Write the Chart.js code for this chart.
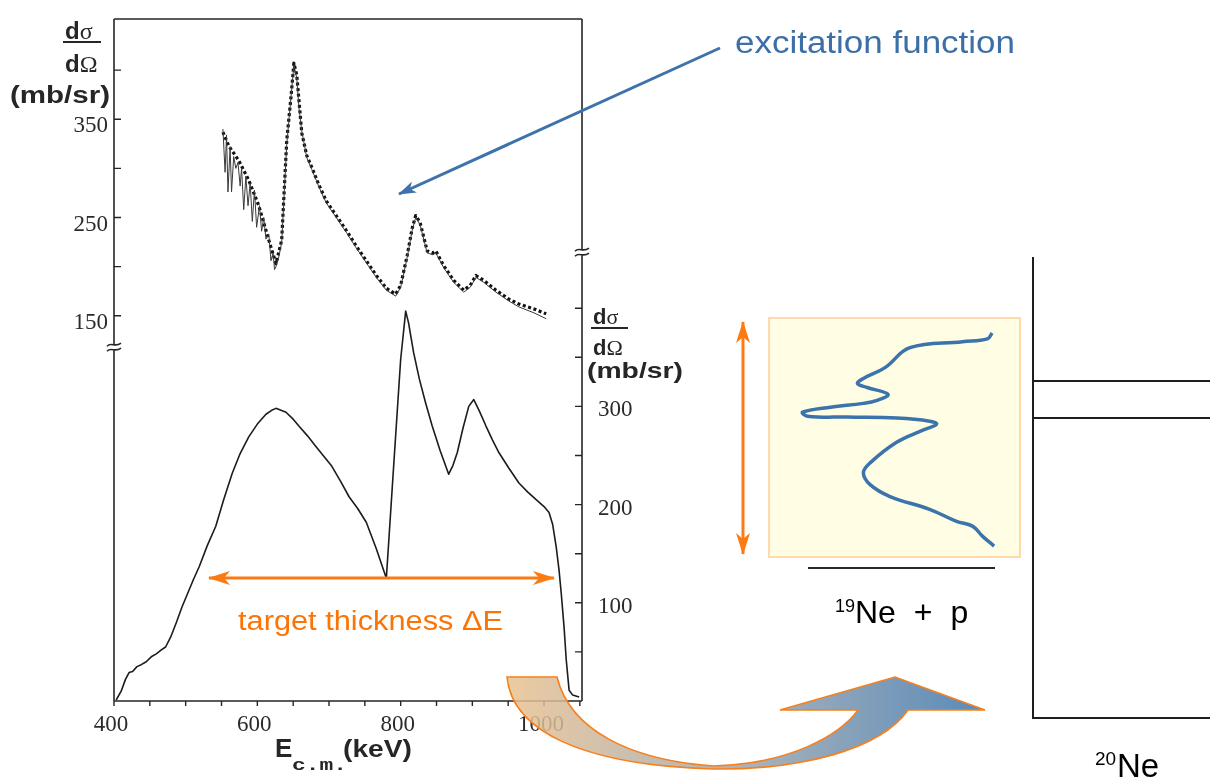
<!DOCTYPE html>
<html>
<head>
<meta charset="utf-8">
<script src="https://cdn.jsdelivr.net/npm/chart.js@4.4.1/dist/chart.umd.min.js"></script>
<style>
    html, body { margin: 0; padding: 0; background: #fff; }
    body { width: 1210px; height: 779px; position: relative; overflow: hidden; }
    #mainChart { position: absolute; left: 0; top: 0; }
    #insetBox {
        position: absolute; left: 768px; top: 317px; width: 253px; height: 241px;
        box-sizing: border-box; border: 2px solid #ffd9ab; background: #fffde4;
    }
    #insetChart { display: block; }
    #overlay { position: absolute; left: 0; top: 0; pointer-events: none; }
</style>
</head>
<body>
<canvas id="mainChart" width="700" height="779"></canvas>
<div id="insetBox"><canvas id="insetChart" width="249" height="237"></canvas></div>

<svg id="overlay" width="1210" height="779" xmlns="http://www.w3.org/2000/svg">
    <defs>
        <linearGradient id="bendFill" gradientUnits="userSpaceOnUse" x1="507" y1="0" x2="985" y2="0">
            <stop offset="0" stop-color="#e9c291"/>
            <stop offset="0.5" stop-color="#9aa5b0"/>
            <stop offset="1" stop-color="#3d76ab"/>
        </linearGradient>
        <marker id="headBlue" markerUnits="userSpaceOnUse" markerWidth="18" markerHeight="12" refX="17" refY="6" orient="auto-start-reverse">
            <path d="M0,0 L18,6 L0,12 L5,6 Z" fill="#3d72aa"/>
        </marker>
        <marker id="headOrange" markerUnits="userSpaceOnUse" markerWidth="22" markerHeight="14" refX="21" refY="7" orient="auto-start-reverse">
            <path d="M0,0 L22,7 L0,14 L6,7 Z" fill="#fb7b12"/>
        </marker>
    </defs>

    <!-- titres des axes du graphique principal -->
    <g font-family="Liberation Sans, Arial, sans-serif" font-weight="bold" fill="#262626">
        <text x="65" y="39" font-size="24">d<tspan font-family="Liberation Serif, serif" font-weight="normal">σ</tspan></text>
        <line x1="63" y1="42" x2="101" y2="42" stroke="#262626" stroke-width="2.2"/>
        <text x="65" y="72" font-size="24">d<tspan font-family="Liberation Serif, serif" font-weight="normal">Ω</tspan></text>
        <text x="10" y="103" font-size="23" textLength="100" lengthAdjust="spacingAndGlyphs">(mb/sr)</text>

        <text x="593" y="324" font-size="22">d<tspan font-family="Liberation Serif, serif" font-weight="normal">σ</tspan></text>
        <line x1="591" y1="328" x2="628" y2="328" stroke="#262626" stroke-width="2.2"/>
        <text x="593" y="355" font-size="22">d<tspan font-family="Liberation Serif, serif" font-weight="normal">Ω</tspan></text>
        <text x="587" y="378" font-size="22" textLength="96" lengthAdjust="spacingAndGlyphs">(mb/sr)</text>

        <text x="275" y="757" font-size="26">E</text>
        <text x="292" y="770" font-size="17" font-family="Liberation Mono, monospace" textLength="55" lengthAdjust="spacingAndGlyphs">c.m.</text>
        <text x="343" y="757" font-size="24" textLength="69" lengthAdjust="spacingAndGlyphs">(keV)</text>
    </g>

    <!-- annotations -->
    <text x="735" y="53" font-family="Liberation Sans, Arial, sans-serif" font-size="31" fill="#3b6fa6" textLength="280" lengthAdjust="spacingAndGlyphs">excitation function</text>
    <line x1="720" y1="48" x2="399" y2="194" stroke="#3d72aa" stroke-width="3" marker-end="url(#headBlue)"/>

    <line x1="209" y1="578" x2="554" y2="578" stroke="#fb7b12" stroke-width="3" marker-start="url(#headOrange)" marker-end="url(#headOrange)"/>
    <text x="238" y="630" font-family="Liberation Sans, Arial, sans-serif" font-size="27" fill="#fb7406" textLength="265" lengthAdjust="spacingAndGlyphs">target thickness ΔE</text>

    <line x1="743" y1="322" x2="743" y2="554" stroke="#fb7b12" stroke-width="3" marker-start="url(#headOrange)" marker-end="url(#headOrange)"/>

    <line x1="808" y1="568" x2="995" y2="568" stroke="#2a2a2a" stroke-width="2"/>
    <text x="835" y="612" font-family="Liberation Sans, Arial, sans-serif" font-size="18" fill="#000">19</text>
    <text x="855" y="623" font-family="Liberation Sans, Arial, sans-serif" font-size="32" word-spacing="9" fill="#000">Ne + p</text>

    <!-- schéma des niveaux -->
    <g stroke="#1e1e1e" stroke-width="2">
        <line x1="1033" y1="257" x2="1033" y2="719"/>
        <line x1="1032" y1="718" x2="1210" y2="718"/>
        <line x1="1033" y1="381" x2="1210" y2="381"/>
        <line x1="1033" y1="418" x2="1210" y2="418"/>
    </g>
    <text x="1095" y="765" font-family="Liberation Sans, Arial, sans-serif" font-size="19" fill="#000">20</text>
    <text x="1117" y="777" font-family="Liberation Sans, Arial, sans-serif" font-size="33" fill="#000">Ne</text>

    <!-- flèche courbe -->
    <path d="M507,677 L557,677 C570,730 630,760 713,766 C790,764 840,735 858,710 L780,710 L895,677 L985,710 L908,710 C880,750 800,770 713,769 C580,765 512,730 507,677 Z"
          fill="url(#bendFill)" fill-opacity="0.85" stroke="#f7801d" stroke-width="1.6"/>
</svg>

<script>
// Axe des énergies (keV) et courbe de la fonction d'excitation (points, échelle de gauche)
const upperEnergy = [552, 560, 574, 588, 602, 616, 626, 634, 641, 647, 651, 655, 662, 669, 676, 686, 696, 710, 724, 738, 752, 766, 780, 793, 800, 809, 816, 821, 827, 837, 845, 849, 860, 874, 888, 897, 905, 916, 933, 951, 965, 986, 1003];
const upperValue = [337, 323, 308, 288, 262, 227, 203, 227, 328, 373, 407, 395, 336, 313, 301, 283, 267, 252, 237, 221, 206, 191, 178, 172, 181, 211, 239, 252, 245, 216, 214, 216, 201, 186, 176, 181, 191, 186, 176, 167, 162, 157, 152];

// Trait fin sous les points (avec les pics du début)
const upperLineEnergy = [552, 555, 557, 559, 562, 564, 567, 570, 573, 576, 578, 581, 584, 587, 590, 593, 596, 599, 603, 606, 609, 612, 616, 619, 622, 624, 626, 630, 634, 641, 647, 651, 655, 658, 662, 669, 676, 686, 696, 710, 724, 738, 752, 766, 780, 793, 800, 809, 816, 821, 827, 837, 845, 849, 860, 874, 888, 897, 905, 916, 933, 951, 965, 986, 1003];
const upperLineValue = [340, 296, 334, 276, 322, 276, 312, 300, 306, 282, 300, 258, 292, 262, 285, 246, 278, 240, 262, 236, 250, 228, 233, 206, 214, 197, 200, 210, 225, 324, 373, 405, 392, 362, 338, 311, 299, 281, 265, 250, 235, 219, 204, 189, 176, 170, 179, 209, 237, 250, 243, 214, 212, 214, 199, 184, 174, 179, 189, 184, 174, 165, 159, 153, 147];

// Courbe du bas (échelle de droite)
const lowerEnergy = [403, 410, 416, 421, 426, 432, 438, 445, 452, 459, 466, 472, 479, 487, 495, 503, 511, 519, 530, 542, 553, 565, 576, 588, 600, 612, 620, 626, 633, 640, 650, 658, 670, 682, 693, 704, 716, 728, 740, 752, 766, 780, 790, 800, 807, 811, 818, 826, 835, 844, 855, 867, 873, 879, 887, 895, 902, 910, 919, 928, 937, 951, 965, 977, 989, 1000, 1007, 1012, 1017, 1021, 1024, 1028, 1031, 1035, 1040, 1049];
const lowerValue = [1, 10, 22, 29, 30, 35, 37, 40, 45, 48, 52, 55, 65, 80, 96, 110, 124, 137, 158, 178, 205, 232, 252, 269, 282, 292, 296, 298, 296, 294, 287, 280, 270, 259, 249, 239, 224, 208, 196, 182, 155, 125, 237, 348, 397, 385, 355, 328, 303, 280, 255, 231, 240, 253, 278, 300, 307, 295, 280, 266, 253, 237, 222, 213, 205, 198, 192, 180, 157, 133, 110, 75, 42, 11, 6, 4];

// Graduations
const xTicks = [400, 450, 500, 550, 600, 650, 700, 750, 800, 850, 900, 950, 1000, 1050];
const xLabels = [400, 600, 800, 1000];
const leftTicks = [150, 200, 250, 300, 350, 400];
const leftLabels = [150, 250, 350];
const rightTicks = [50, 100, 150, 200, 250, 300, 350, 400];
const rightLabels = [100, 200, 300];

// Encadré : courbe schématique (section efficace horizontale, énergie verticale)
const insetValue = [89.2, 87.3, 77.3, 56.2, 46.2, 37.5, 35.1, 39.0, 47.4, 43.0, 37.5, 24.3, 13.1, 15.1, 31.1, 51.0, 64.1, 66.9, 61.4, 51.0, 40.2, 37.5, 40.2, 48.2, 64.1, 74.9, 81.3, 85.3, 90.0];
const insetEnergy = [94.1, 91.6, 90.4, 87.9, 79.5, 74.9, 72.8, 71.1, 68.2, 65.7, 64.4, 62.8, 60.7, 59.0, 58.6, 58.2, 56.9, 55.6, 53.1, 48.1, 39.3, 35.1, 30.1, 25.1, 19.7, 14.6, 12.6, 8.4, 4.2];

const axisColor = '#262626';
const tickFont = { family: 'Liberation Serif', size: 23 };

const toPoints = (xs, ys) => xs.map((x, i) => ({ x: x, y: ys[i] }));

// Pas de marge automatique autour des axes : la zone du graphique reste fixe
const noScalePadding = (s) => {
    s.paddingTop = 0;
    s.paddingBottom = 0;
    s.paddingLeft = 0;
    s.paddingRight = 0;
};

// Coupure d'axe (petit « ≈ »)
function drawBreak(ctx, x, y) {
    ctx.save();
    ctx.fillStyle = '#fff';
    ctx.fillRect(x - 3, y - 3, 6, 6);
    ctx.strokeStyle = axisColor;
    ctx.lineWidth = 1.6;
    [-2.5, 2.5].forEach(dy => {
        ctx.beginPath();
        ctx.moveTo(x - 7, y + dy + 1.5);
        ctx.bezierCurveTo(x - 3, y + dy - 3, x + 1, y + dy + 3, x + 7, y + dy - 1.5);
        ctx.stroke();
    });
    ctx.restore();
}

// Cadre, graduations intérieures et coupures
const framePlugin = {
    id: 'frame',
    afterDraw(chart) {
        const { ctx, chartArea: a, scales } = chart;
        ctx.save();
        ctx.strokeStyle = axisColor;
        ctx.lineWidth = 1.6;
        ctx.beginPath();
        ctx.moveTo(a.left, a.top); ctx.lineTo(a.right, a.top);
        ctx.moveTo(a.left, a.top); ctx.lineTo(a.left, a.bottom);
        ctx.moveTo(a.right, a.top); ctx.lineTo(a.right, a.bottom);
        ctx.moveTo(a.left, a.bottom); ctx.lineTo(a.right, a.bottom);
        ctx.stroke();

        ctx.lineWidth = 1.4;
        ctx.beginPath();
        scales.y.ticks.forEach(t => {
            const py = scales.y.getPixelForValue(t.value);
            ctx.moveTo(a.left, py); ctx.lineTo(a.left + 7, py);
        });
        scales.y2.ticks.forEach(t => {
            const py = scales.y2.getPixelForValue(t.value);
            ctx.moveTo(a.right, py); ctx.lineTo(a.right - 7, py);
        });
        scales.x.ticks.forEach(t => {
            const px = scales.x.getPixelForValue(t.value);
            ctx.moveTo(px, a.bottom); ctx.lineTo(px, a.bottom + 5);
        });
        ctx.stroke();
        ctx.restore();

        drawBreak(ctx, a.left, scales.y.getPixelForValue(118));
        drawBreak(ctx, a.right, scales.y2.getPixelForValue(457));
    }
};

new Chart(document.getElementById('mainChart'), {
    type: 'scatter',
    data: {
        datasets: [
            {
                data: toPoints(upperLineEnergy, upperLineValue),
                yAxisID: 'y',
                showLine: true,
                borderColor: '#3a3a3a',
                borderWidth: 1,
                borderJoinStyle: 'round',
                pointRadius: 0
            },
            {
                data: toPoints(upperEnergy, upperValue),
                yAxisID: 'y',
                showLine: true,
                borderColor: '#111',
                borderWidth: 3.2,
                borderDash: [3, 2.6],
                borderJoinStyle: 'round',
                pointRadius: 0
            },
            {
                data: toPoints(lowerEnergy, lowerValue),
                yAxisID: 'y2',
                showLine: true,
                borderColor: '#1c1c1c',
                borderWidth: 1.6,
                borderJoinStyle: 'round',
                pointRadius: 0
            }
        ]
    },
    options: {
        responsive: false,
        animation: false,
        events: [],
        layout: { padding: { top: 19, left: 0, right: 0, bottom: 0 } },
        plugins: { legend: { display: false }, tooltip: { enabled: false } },
        scales: {
            x: {
                type: 'linear',
                min: 400,
                max: 1053,
                afterBuildTicks: s => { s.ticks = xTicks.map(v => ({ value: v })); },
                afterFit: s => { s.height = 78; noScalePadding(s); },
                grid: { display: false, drawTicks: false },
                border: { display: false },
                ticks: {
                    autoSkip: false,
                    maxRotation: 0,
                    padding: 10,
                    labelOffset: -3,
                    color: '#2b2b2b',
                    font: tickFont,
                    callback: v => xLabels.includes(v) ? v : ''
                }
            },
            y: {
                type: 'linear',
                position: 'left',
                min: -242,
                max: 452,
                afterBuildTicks: s => { s.ticks = leftTicks.map(v => ({ value: v })); },
                afterFit: s => { s.width = 114; noScalePadding(s); },
                grid: { display: false, drawTicks: false },
                border: { display: false },
                ticks: {
                    autoSkip: false,
                    padding: 6,
                    labelOffset: 7,
                    color: '#2b2b2b',
                    font: tickFont,
                    callback: v => leftLabels.includes(v) ? v : ''
                }
            },
            y2: {
                type: 'linear',
                position: 'right',
                min: 0,
                max: 694.5,
                afterBuildTicks: s => { s.ticks = rightTicks.map(v => ({ value: v })); },
                afterFit: s => { s.width = 118; noScalePadding(s); },
                grid: { display: false, drawTicks: false },
                border: { display: false },
                ticks: {
                    autoSkip: false,
                    padding: 16,
                    labelOffset: 4,
                    color: '#2b2b2b',
                    font: tickFont,
                    callback: v => rightLabels.includes(v) ? v : ''
                }
            }
        }
    },
    plugins: [framePlugin]
});

// Petit graphique de l'encadré
new Chart(document.getElementById('insetChart'), {
    type: 'scatter',
    data: {
        datasets: [{
            data: toPoints(insetValue, insetEnergy),
            showLine: true,
            tension: 0.4,
            borderColor: '#3b73ab',
            borderWidth: 3.5,
            pointRadius: 0,
            clip: false
        }]
    },
    options: {
        responsive: false,
        animation: false,
        events: [],
        layout: { padding: 0 },
        plugins: { legend: { display: false }, tooltip: { enabled: false } },
        scales: {
            x: { type: 'linear', min: 0, max: 100, display: false },
            y: { type: 'linear', min: 0, max: 100, display: false }
        }
    }
});
</script>
</body>
</html>
